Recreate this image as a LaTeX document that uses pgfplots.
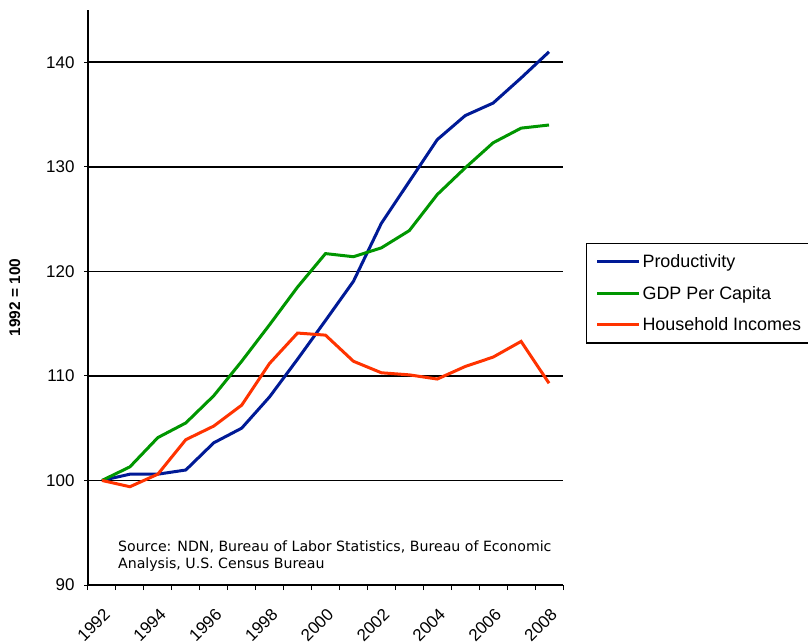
\documentclass[border=0pt]{standalone}
\usepackage{pgfplots}
\pgfplotsset{compat=1.18}
\usepackage{fontspec}
\setmainfont{Liberation Sans}
\newfontfamily\srcfont{DejaVu Sans}
\definecolor{prodblue}{RGB}{0,26,150}
\definecolor{gdpgreen}{RGB}{0,150,0}
\definecolor{incred}{RGB}{255,51,0}

\begin{document}
\begin{tikzpicture}
\path[use as bounding box] (-88bp,-58bp) rectangle (720bp,585bp);
\begin{axis}[
  at={(0,0)}, anchor=origin,
  scale only axis, width=475bp, height=575bp,
  xmin=1991.5, xmax=2008.5, ymin=90, ymax=145,
  axis lines*=left,
  axis line style={line width=1.5bp},
  xtick={1992,1994,...,2008},
  major x tick style={draw=none},
  minor xtick={1991.5,1992.5,...,2008.5},
  ytick={90,100,...,140},
  tick align=outside,
  major tick length=4bp, minor tick length=5bp,
  tick style={black, line width=1bp},
  minor x tick style={black, line width=1bp},
  ymajorgrids, grid style={black, line width=1.6bp},
  x tick label style={rotate=45, anchor=north east, xshift=-9bp, yshift=-10bp,
    font=\fontsize{17}{20}\selectfont},
  y tick label style={xshift=-6bp, font=\fontsize{17}{20}\selectfont},
  /pgf/number format/assume math mode=true,
  /pgf/number format/1000 sep={},
  ylabel={\bfseries 1992 = 100},
  ylabel style={at={(axis description cs:-0.154,0.5)}, anchor=center, font=\fontsize{15.5}{18}\selectfont},
  legend style={at={(axis description cs:1.048,0.595)}, anchor=north west,
    draw=black, line width=1.5bp, font=\fontsize{18}{21}\selectfont,
    row sep=13bp, inner xsep=9bp, inner ysep=9bp},
  legend cell align=left,
  legend image code/.code={\draw[#1, line width=3bp] (0bp,0bp) -- (42bp,0bp);},
  every axis plot/.append style={line width=3bp},
]
\addplot[prodblue] coordinates {
(1992,100.0)(1993,100.6)(1994,100.6)(1995,101.0)(1996,103.6)(1997,105.0)
(1998,108.0)(1999,111.6)(2000,115.3)(2001,119.05)(2002,124.6)(2003,128.6)
(2004,132.6)(2005,134.9)(2006,136.1)(2007,138.5)(2008,141.0)};
\addlegendentry{Productivity}
\addplot[gdpgreen] coordinates {
(1992,100.0)(1993,101.3)(1994,104.1)(1995,105.5)(1996,108.1)(1997,111.4)
(1998,114.9)(1999,118.5)(2000,121.7)(2001,121.4)(2002,122.25)(2003,123.9)
(2004,127.35)(2005,129.9)(2006,132.3)(2007,133.7)(2008,134.0)};
\addlegendentry{GDP Per Capita}
\addplot[incred] coordinates {
(1992,100.0)(1993,99.4)(1994,100.6)(1995,103.9)(1996,105.2)(1997,107.2)
(1998,111.2)(1999,114.1)(2000,113.9)(2001,111.4)(2002,110.3)(2003,110.1)
(2004,109.7)(2005,110.9)(2006,111.8)(2007,113.3)(2008,109.3)};
\addlegendentry{Household Incomes}
\node[anchor=north west, align=left, inner sep=0pt, font=\srcfont\fontsize{14.2}{16.5}\selectfont]
  at (axis description cs:0.063,0.077)
  {Source: NDN, Bureau of Labor Statistics, Bureau of Economic\\Analysis, U.S. Census Bureau};
\end{axis}
\end{tikzpicture}
\end{document}
